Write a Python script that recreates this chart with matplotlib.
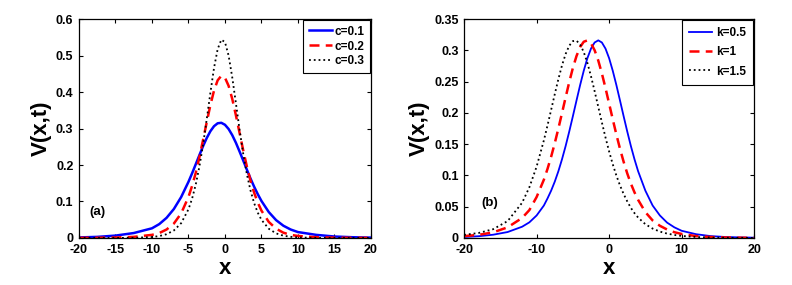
import matplotlib
matplotlib.use('Agg')
import numpy as np
import matplotlib.pyplot as plt
from matplotlib.ticker import FormatStrFormatter

# panel (a): values
x_a = [-20, -17.5, -15, -12.5, -10, -9, -8, -7, -6,
       -5, -4.5, -4, -3.5, -3, -2.5, -2, -1.5, -1, -0.5, 0,
       0.5, 1, 1.5, 2, 2.5, 3, 3.5, 4, 4.5, 5,
       6, 7, 8, 9, 10, 12.5, 15, 17.5, 20]
v_c01 = [0.0015, 0.0030, 0.0065, 0.0135, 0.0265, 0.0380, 0.0552, 0.0794, 0.1122,
         0.1539, 0.1774, 0.2022, 0.2272, 0.2517, 0.2739, 0.2926, 0.3064, 0.3144, 0.3157, 0.3103,
         0.2987, 0.2818, 0.2609, 0.2370, 0.2124, 0.1872, 0.1629, 0.1404, 0.1198, 0.1014,
         0.0711, 0.0490, 0.0336, 0.0232, 0.0162, 0.0085, 0.0040, 0.0020, 0.0010]
v_c02 = [0.0003, 0.0006, 0.0012, 0.0030, 0.0085, 0.0135, 0.0232, 0.0395, 0.0675,
         0.1124, 0.1430, 0.1785, 0.2218, 0.2688, 0.3171, 0.3639, 0.4040, 0.4322, 0.4446, 0.4393,
         0.4170, 0.3810, 0.3362, 0.2880, 0.2402, 0.1959, 0.1567, 0.1240, 0.0968, 0.0749,
         0.0440, 0.0255, 0.0145, 0.0085, 0.0055, 0.0020, 0.0008, 0.0004, 0.0002]
v_c03 = [0.00001, 0.00002, 0.0001, 0.0005, 0.0026, 0.0052, 0.0103, 0.0206, 0.0406,
         0.0786, 0.1081, 0.1467, 0.1961, 0.2558, 0.3251, 0.3977, 0.4660, 0.5178, 0.5435, 0.5370,
         0.4998, 0.4400, 0.3690, 0.2966, 0.2309, 0.1750, 0.1301, 0.0953, 0.0691, 0.0497,
         0.0253, 0.0126, 0.0063, 0.0032, 0.0016, 0.0003, 0.00005, 0.00001, 0.0]

# panel (b)
x_b = [-20, -18, -16, -14, -12, -11, -10, -9, -8.5, -8, -7.5, -7, -6.5, -6, -5.5,
       -5, -4.5, -4, -3.5, -3, -2.5, -2, -1.5, -1, -0.5, 0, 0.5, 1, 1.5, 2,
       2.5, 3, 3.5, 4, 5, 6, 7, 8, 9, 10, 12, 14, 16, 18, 20]
v_k05 = [0.0016, 0.0028, 0.0052, 0.0095, 0.0180, 0.0250, 0.0360, 0.0519, 0.0632, 0.0756, 0.0900, 0.1067, 0.1258, 0.1470, 0.1702,
         0.1947, 0.2198, 0.2445, 0.2674, 0.2874, 0.3028, 0.3126, 0.3160, 0.3126, 0.3028, 0.2874, 0.2674, 0.2445, 0.2198, 0.1947,
         0.1702, 0.1470, 0.1258, 0.1067, 0.0756, 0.0519, 0.0360, 0.0245, 0.0170, 0.0115, 0.0060, 0.0030, 0.0016, 0.0009, 0.0005]
v_k1 = [0.0030, 0.0050, 0.0090, 0.0170, 0.0320, 0.0446, 0.0655, 0.0932, 0.1104, 0.1298, 0.1515, 0.1750, 0.1997, 0.2248, 0.2493,
        0.2719, 0.2909, 0.3053, 0.3138, 0.3159, 0.3112, 0.3002, 0.2838, 0.2631, 0.2397, 0.2148, 0.1897, 0.1654, 0.1426, 0.1218,
        0.1032, 0.0869, 0.0729, 0.0609, 0.0413, 0.0280, 0.0195, 0.0135, 0.0092, 0.0064, 0.0030, 0.0015, 0.0008, 0.0004, 0.0002]
v_k15 = [0.0050, 0.0080, 0.0140, 0.0270, 0.0563, 0.0811, 0.1141, 0.1561, 0.1799, 0.2047, 0.2298, 0.2540, 0.2760, 0.2942, 0.3075,
         0.3148, 0.3155, 0.3095, 0.2973, 0.2800, 0.2586, 0.2347, 0.2098, 0.1848, 0.1607, 0.1383, 0.1179, 0.0998, 0.0840, 0.0703,
         0.0585, 0.0481, 0.0397, 0.0326, 0.0220, 0.0150, 0.0102, 0.0070, 0.0048, 0.0033, 0.0015, 0.0007, 0.0003, 0.00015, 0.0001]

font = {'family': 'Liberation Sans', 'weight': 'bold', 'size': 9}
matplotlib.rc('font', **font)
matplotlib.rc('axes', labelweight='bold')

fig = plt.figure(figsize=(7.92, 2.85), dpi=100)
ax1 = fig.add_axes([0.0997, 0.165, 0.3687, 0.768])
ax2 = fig.add_axes([0.586, 0.165, 0.3662, 0.768])

ax1.plot(x_a, v_c01, '-', color='#0000ff', linewidth=1.8, label='c=0.1')
ax1.plot(x_a, v_c02, '--', color='#ff0000', linewidth=1.8, dashes=(4, 2.5), label='c=0.2')
ax1.plot(x_a, v_c03, ':', color='k', linewidth=1.3, label='c=0.3')

ax2.plot(x_b, v_k05, '-', color='#0000ff', linewidth=1.3, label='k=0.5')
ax2.plot(x_b, v_k1, '--', color='#ff0000', linewidth=1.8, dashes=(4, 2.5), label='k=1')
ax2.plot(x_b, v_k15, ':', color='k', linewidth=1.3, label='k=1.5')

ax1.set_xlim(-20, 20)
ax1.set_ylim(0, 0.6)
ax1.set_xticks(np.arange(-20, 21, 5))
ax1.set_yticks(np.arange(0, 0.61, 0.1))
ax2.set_xlim(-20, 20)
ax2.set_ylim(0, 0.35)
ax2.set_xticks(np.arange(-20, 21, 10))
ax2.set_yticks(np.arange(0, 0.351, 0.05))

for ax in (ax1, ax2):
    ax.yaxis.set_major_formatter(FormatStrFormatter('%g'))
    ax.xaxis.set_major_formatter(FormatStrFormatter('%g'))
    ax.tick_params(direction='in', top=True, right=True, length=3, width=0.8, pad=4)
    for s in ax.spines.values():
        s.set_linewidth(0.9)
    ax.set_xlabel('x', fontsize=16, fontweight='bold', labelpad=2)
    ax.set_ylabel('V(x,t)', fontsize=16, fontweight='bold', labelpad=3)

ax1.text(-18.6, 0.063, '(a)', fontsize=9.5)
ax2.text(-17.6, 0.051, '(b)', fontsize=9.5)

leg1 = ax1.legend(loc='upper right', borderaxespad=0.1, fancybox=False, edgecolor='k',
                  framealpha=1, handlelength=2.0, labelspacing=0.25, fontsize=8.5,
                  handletextpad=0.2, borderpad=0.45)
leg1.get_frame().set_linewidth(0.8)
leg2 = ax2.legend(loc='upper right', borderaxespad=0.1, fancybox=False, edgecolor='k',
                  framealpha=1, handlelength=2.0, labelspacing=0.6, fontsize=8.5,
                  handletextpad=0.3, borderpad=0.6)
leg2.get_frame().set_linewidth(0.8)

plt.savefig('out.png', dpi=100)
